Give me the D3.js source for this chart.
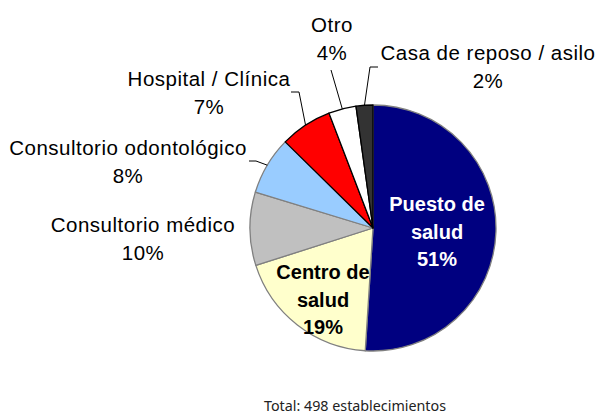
<!DOCTYPE html>
<html>
<head>
<meta charset="utf-8">
<script src="https://cdn.jsdelivr.net/npm/d3@7"></script>
<style>
  body { margin: 0; background: #fff; }
  svg { display: block; }
</style>
</head>
<body>
<div id="chart"></div>
<script>
// establecimientos por tipo (total 498)
var categories = ["Puesto de salud", "Centro de salud", "Consultorio médico", "Consultorio odontológico", "Hospital / Clínica", "Otro", "Casa de reposo / asilo"];
var counts = [254, 95, 48, 38, 34, 18, 11];
var colors = ["#000080", "#FFFFCC", "#C0C0C0", "#99CCFF", "#FF0000", "#FFFFFF", "#333333"];
var footerText = "Total: 498 establecimientos";

var width = 598, height = 414;
var cx = 373, cy = 228, radius = 123;

// label layout: inside labels split in lines, outside labels with name + pct
var labelPos = {
	"Puesto de salud": {inside: true, x: 437, y: 211, lines: ["Puesto de", "salud"], fill: "#fff"},
	"Centro de salud": {inside: true, x: 323, y: 279, lines: ["Centro de", "salud"], fill: "#000"},
	"Consultorio médico": {x: 143, y: 232},
	"Consultorio odontológico": {x: 128, y: 155, elbow: [[256, 161], [249, 161]]},
	"Hospital / Clínica": {x: 209, y: 86, elbow: [[299, 92], [291, 92]]},
	"Otro": {x: 332, y: 32, elbow: [[331, 70]]},
	"Casa de reposo / asilo": {x: 488, y: 60, elbow: [[370, 67], [378, 67]]}
};
var lineGap = 27.5;

var total = d3.sum(counts);
var pct = function(v) { return Math.round(v / total * 100) + "%"; };

var data = categories.map(function(c, i) { return {name: c, value: counts[i], color: colors[i]}; });

var pie = d3.pie().sort(null).value(function(d) { return d.value; });
var arcs = pie(data);
var arc = d3.arc().innerRadius(0).outerRadius(radius);

var svg = d3.select("#chart").append("svg")
	.attr("width", width)
	.attr("height", height);

var g = svg.append("g").attr("transform", "translate(" + cx + "," + cy + ")");

var darkBorder = ["Hospital / Clínica", "Otro", "Casa de reposo / asilo"];

g.selectAll("path.slice")
	.data(arcs)
	.enter()
	.append("path")
	.attr("class", "slice")
	.attr("d", arc)
	.attr("fill", function(d) { return d.data.color; })
	.attr("stroke", function(d) { return darkBorder.indexOf(d.data.name) >= 0 ? "#000" : "#808080"; })
	.attr("stroke-width", 1.3)
	.attr("stroke-linejoin", "round");

// leader lines
arcs.forEach(function(d) {
	var lp = labelPos[d.data.name];
	if(!lp.elbow) return;
	var mid = (d.startAngle + d.endAngle) / 2;
	var pts = [[cx + radius * Math.sin(mid), cy - radius * Math.cos(mid)]].concat(lp.elbow);
	svg.append("path")
		.attr("d", d3.line()(pts))
		.attr("fill", "none")
		.attr("stroke", "#000")
		.attr("stroke-width", 1);
});

// labels
arcs.forEach(function(d) {
	var lp = labelPos[d.data.name];
	var lines = lp.inside ? lp.lines.concat([pct(d.value)]) : [d.data.name, pct(d.value)];
	var t = svg.append("text")
		.attr("text-anchor", "middle")
		.attr("font-family", "'Liberation Sans', Arial, sans-serif")
		.attr("font-size", lp.inside ? "20px" : "20.5px")
		.attr("letter-spacing", lp.inside ? "0px" : "0.5px")
		.attr("font-weight", lp.inside ? "bold" : "normal")
		.attr("fill", lp.fill || "#000");
	lines.forEach(function(s, k) {
		t.append("tspan")
			.attr("x", lp.x)
			.attr("y", lp.y + k * lineGap)
			.text(s);
	});
});

svg.append("text")
	.attr("x", 355)
	.attr("y", 411)
	.attr("text-anchor", "middle")
	.attr("font-family", "'Noto Sans', 'Open Sans', sans-serif")
	.attr("font-size", "14.3px")
	.attr("fill", "#222")
	.text(footerText);
</script>
</body>
</html>
